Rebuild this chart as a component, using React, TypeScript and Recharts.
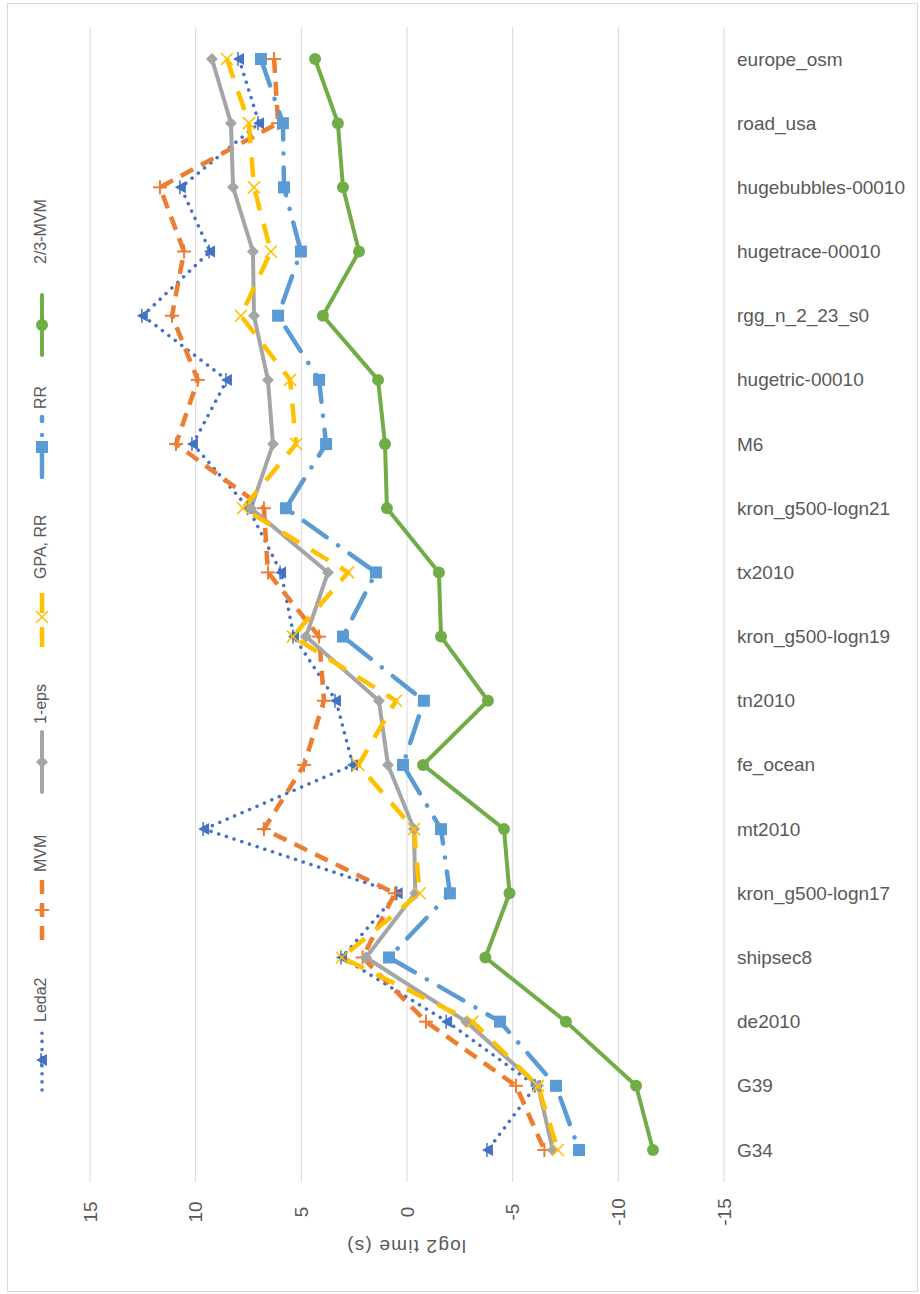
import { LineChart, Line, XAxis, YAxis, CartesianGrid } from "recharts";

const categories = [
  "europe_osm",
  "road_usa",
  "hugebubbles-00010",
  "hugetrace-00010",
  "rgg_n_2_23_s0",
  "hugetric-00010",
  "M6",
  "kron_g500-logn21",
  "tx2010",
  "kron_g500-logn19",
  "tn2010",
  "fe_ocean",
  "mt2010",
  "kron_g500-logn17",
  "shipsec8",
  "de2010",
  "G39",
  "G34",
];

const leda2 = [7.95, 7.0, 10.7, 9.32, 12.5, 8.52, 10.13, 7.5, 5.96, 5.35, 3.36, 2.56, 9.6, 0.44, 3.08, -1.9, -6.1, -3.83];
const mvm = [6.29, 6.1, 11.69, 10.55, 11.12, 9.9, 10.93, 6.77, 6.58, 4.16, 3.93, 4.87, 6.77, 0.57, 2.1, -0.9, -5.16, -6.5];
const oneEps = [9.23, 8.33, 8.23, 7.29, 7.24, 6.58, 6.34, 7.38, 3.74, 4.78, 1.33, 0.9, -0.33, -0.39, 1.94, -2.8, -6.2, -6.9];
const gpaRR = [8.52, 7.48, 7.24, 6.44, 7.86, 5.53, 5.25, 7.76, 2.79, 5.4, 0.52, 2.3, -0.33, -0.6, 3.08, -3.1, -6.2, -7.14];
const rr = [6.91, 5.87, 5.82, 5.02, 6.1, 4.16, 3.83, 5.73, 1.47, 3.03, -0.8, 0.19, -1.61, -2.03, 0.85, -4.4, -7.05, -8.14];
const twoThirdsMvm = [4.35, 3.27, 3.03, 2.27, 3.98, 1.37, 1.04, 0.95, -1.51, -1.61, -3.83, -0.76, -4.59, -4.85, -3.71, -7.52, -10.84, -11.64];

const valueTicks = [15, 10, 5, 0, -5, -10, -15];

const data = categories.map((name, i) => ({
  name,
  leda2: leda2[i],
  mvm: mvm[i],
  oneEps: oneEps[i],
  gpaRR: gpaRR[i],
  rr: rr[i],
  twoThirds: twoThirdsMvm[i],
}));

const FONT = "'Liberation Sans', Arial, sans-serif";
const TEXT = "#595959";

type MarkerKind = "triangle" | "plus" | "diamond" | "cross" | "square" | "circle";

function Marker({ kind, cx, cy, color }: { kind: MarkerKind; cx: number; cy: number; color: string }) {
  switch (kind) {
    case "triangle":
      return (
        <g>
          <polygon points={`${cx - 6},${cy} ${cx + 5},${cy - 6} ${cx + 5},${cy + 6}`} fill={color} />
          <line x1={cx - 1} y1={cy - 7} x2={cx - 1} y2={cy + 7} stroke={color} strokeWidth={1.5} />
        </g>
      );
    case "plus":
      return (
        <g stroke={color} strokeWidth={2}>
          <line x1={cx - 7} y1={cy} x2={cx + 7} y2={cy} />
          <line x1={cx} y1={cy - 7} x2={cx} y2={cy + 7} />
        </g>
      );
    case "diamond":
      return <polygon points={`${cx},${cy - 6} ${cx + 6},${cy} ${cx},${cy + 6} ${cx - 6},${cy}`} fill={color} />;
    case "cross":
      return (
        <g stroke={color} strokeWidth={1.6}>
          <line x1={cx - 6} y1={cy - 6} x2={cx + 6} y2={cy + 6} />
          <line x1={cx - 6} y1={cy + 6} x2={cx + 6} y2={cy - 6} />
        </g>
      );
    case "square":
      return <rect x={cx - 6} y={cy - 6} width={12} height={12} fill={color} />;
    default:
      return <circle cx={cx} cy={cy} r={6} fill={color} />;
  }
}

const series = [
  { key: "leda2", name: "Leda2", color: "#4472C4", dash: "0.1 8", width: 3.5, cap: "round", marker: "triangle" as MarkerKind },
  { key: "mvm", name: "MVM", color: "#ED7D31", dash: "14 9", width: 4.5, cap: "butt", marker: "plus" as MarkerKind },
  { key: "oneEps", name: "1-eps", color: "#A5A5A5", dash: undefined, width: 4, cap: "round", marker: "diamond" as MarkerKind },
  { key: "gpaRR", name: "GPA, RR", color: "#FFC000", dash: "20 14", width: 4.5, cap: "butt", marker: "cross" as MarkerKind },
  { key: "rr", name: "RR", color: "#5B9BD5", dash: "28 14 0.1 14", width: 4.5, cap: "round", marker: "square" as MarkerKind },
  { key: "twoThirds", name: "2/3-MVM", color: "#70AD47", dash: undefined, width: 4, cap: "round", marker: "circle" as MarkerKind },
];

// legend is drawn rotated, reading bottom to top: bottom of each icon, and where its text begins
const legendIconBottom = [1090, 940, 792, 647, 477, 355];
const legendTextStart = [1022, 872, 724, 579, 409, 264];

function ValueTick({ x, payload }: any) {
  const y = 1212;
  return (
    <text
      x={x}
      y={y}
      transform={`rotate(-90 ${x} ${y})`}
      textAnchor="middle"
      dominantBaseline="central"
      fill={TEXT}
      fontSize={19}
      fontFamily={FONT}
    >
      {payload.value}
    </text>
  );
}

function CategoryTick({ y, payload }: any) {
  return (
    <text x={737} y={y} textAnchor="start" dominantBaseline="central" fill={TEXT} fontSize={19} fontFamily={FONT}>
      {payload.value}
    </text>
  );
}

function AxisTitle() {
  const x = 406;
  const y = 1246;
  return (
    <text
      x={x}
      y={y}
      transform={`rotate(180 ${x} ${y})`}
      textAnchor="middle"
      dominantBaseline="central"
      fill={TEXT}
      fontSize={19}
      letterSpacing={1.2}
      fontFamily={FONT}
    >
      log2 time (s)
    </text>
  );
}

function RotatedLegend() {
  const cx = 42;
  return (
    <svg width={90} height={1294} style={{ position: "absolute", left: 0, top: 0 }}>
      {series.map((s, i) => {
        const bottom = legendIconBottom[i];
        const textStart = legendTextStart[i];
        return (
          <g key={s.key}>
            <line
              x1={cx}
              y1={bottom}
              x2={cx}
              y2={bottom - 60}
              stroke={s.color}
              strokeWidth={s.width}
              strokeDasharray={s.dash}
              strokeLinecap={s.cap as any}
            />
            <Marker kind={s.marker} cx={cx} cy={bottom - 30} color={s.color} />
            <text
              x={cx - 2}
              y={textStart}
              transform={`rotate(-90 ${cx - 2} ${textStart})`}
              textAnchor="start"
              dominantBaseline="central"
              fill={TEXT}
              fontSize={16}
              fontFamily={FONT}
            >
              {s.name}
            </text>
          </g>
        );
      })}
    </svg>
  );
}

export default function App() {
  return (
    <div style={{ position: "absolute", left: 0, top: 0, width: 920, height: 1294, background: "#fff" }}>
      <div
        style={{
          position: "absolute",
          left: 7,
          top: 3,
          width: 909,
          height: 1287,
          border: "1px solid #d9d9d9",
        }}
      />
      <div style={{ position: "absolute", left: 0, top: 0 }}>
        <LineChart
          width={920}
          height={1294}
          data={data}
          layout="vertical"
          margin={{ top: 27, left: 90, right: 16, bottom: 82 }}
        >
          <CartesianGrid horizontal={false} stroke="#d9d9d9" strokeWidth={1} />
          <XAxis
            type="number"
            domain={[-15, 15]}
            ticks={valueTicks}
            reversed
            height={30}
            axisLine={false}
            tickLine={false}
            tick={<ValueTick />}
            label={<AxisTitle />}
          />
          <YAxis
            type="category"
            dataKey="name"
            orientation="right"
            width={180}
            axisLine={false}
            tickLine={false}
            interval={0}
            padding={{ top: 32, bottom: 32 }}
            tick={<CategoryTick />}
          />
          {series.map((s) => (
            <Line
              key={s.key}
              dataKey={s.key}
              name={s.name}
              type="linear"
              stroke={s.color}
              strokeWidth={s.width}
              strokeDasharray={s.dash}
              strokeLinecap={s.cap as any}
              strokeLinejoin="round"
              isAnimationActive={false}
              activeDot={false}
              dot={(p: any) => <Marker key={`${s.key}-${p.index}`} kind={s.marker} cx={p.cx} cy={p.cy} color={s.color} />}
            />
          ))}
        </LineChart>
      </div>
      <RotatedLegend />
    </div>
  );
}
